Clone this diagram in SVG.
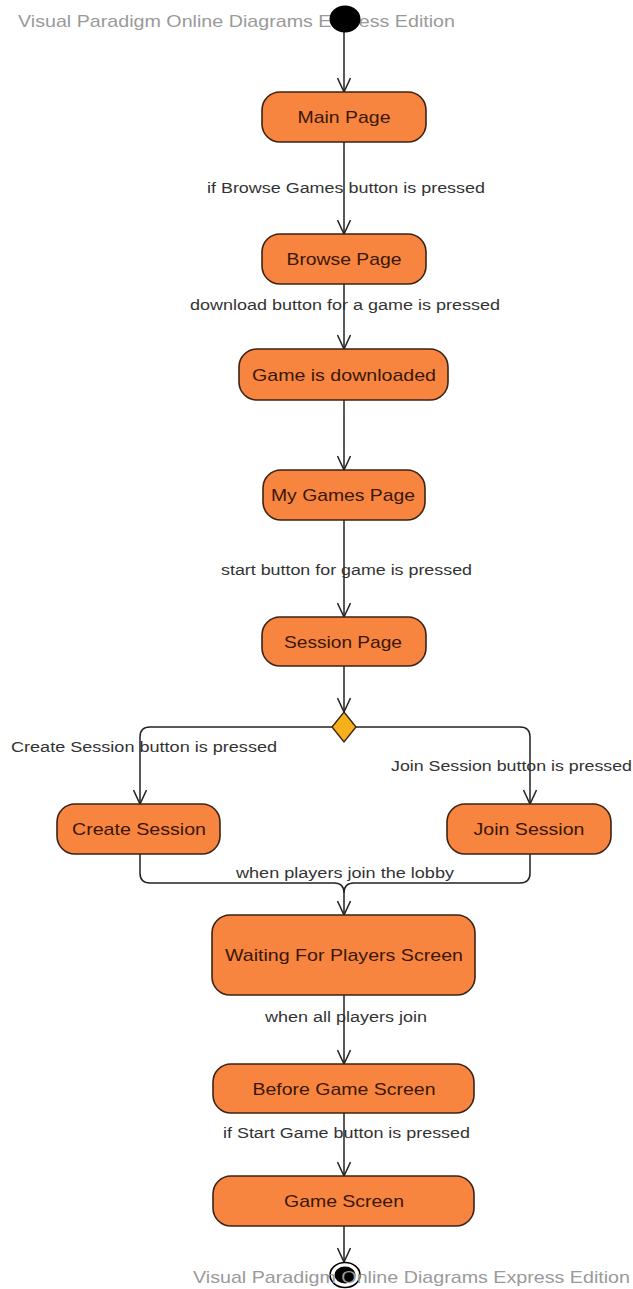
<svg xmlns="http://www.w3.org/2000/svg" width="633" height="1289" viewBox="0 0 633 1289">
<defs>
<style>
.node rect{fill:#f7853f;stroke:#3b2315;stroke-width:1.6}
.node text{font-family:"Liberation Sans",Arial,sans-serif;font-size:17px;fill:#3a1708;text-anchor:middle;dominant-baseline:central}
.edge{fill:none;stroke:#222;stroke-width:1.5}
.lbl{font-family:"Liberation Sans",Arial,sans-serif;font-size:14px;fill:#333}
.wm{font-family:"Liberation Sans",Arial,sans-serif;font-size:17px;fill:#9a9a9a}
</style>
<marker id="open" viewBox="0 0 16 14" refX="15" refY="7" markerWidth="16" markerHeight="14" markerUnits="userSpaceOnUse" orient="auto">
<path d="M1,0.5 L15,7 L1,13.5" fill="none" stroke="#222" stroke-width="1.5"/>
</marker>
</defs>
<rect width="633" height="1289" fill="#fff"/>

<text class="wm" x="18" y="27" textLength="437" lengthAdjust="spacingAndGlyphs">Visual Paradigm Online Diagrams Express Edition</text>

<g id="connectors">
<path class="edge" marker-end="url(#open)" d="M344,32 V92"/>
<path class="edge" marker-end="url(#open)" d="M344,142 V234"/>
<path class="edge" marker-end="url(#open)" d="M344,284 V349"/>
<path class="edge" marker-end="url(#open)" d="M344,400 V470"/>
<path class="edge" marker-end="url(#open)" d="M344,520 V617"/>
<path class="edge" marker-end="url(#open)" d="M344,666 V712"/>
<path class="edge" marker-end="url(#open)" d="M332,727 H150 Q140,727 140,737 V804"/>
<path class="edge" marker-end="url(#open)" d="M356,727 H520 Q530,727 530,737 V804"/>
<path class="edge" marker-end="url(#open)" d="M140,854 V873 Q140,883 150,883 H334 Q344,883 344,893 V915"/>
<path class="edge" d="M530,854 V873 Q530,883 520,883 H354 Q344,883 344,893"/>
<path class="edge" marker-end="url(#open)" d="M344,995 V1064"/>
<path class="edge" marker-end="url(#open)" d="M344,1113 V1176"/>
<path class="edge" marker-end="url(#open)" d="M344,1226 V1262"/>
<text class="lbl" x="207" y="193" textLength="278" lengthAdjust="spacingAndGlyphs">if Browse Games button is pressed</text>
<text class="lbl" x="190" y="310" textLength="310" lengthAdjust="spacingAndGlyphs">download button for a game is pressed</text>
<text class="lbl" x="221" y="575" textLength="251" lengthAdjust="spacingAndGlyphs">start button for game is pressed</text>
<text class="lbl" x="11" y="752" textLength="266" lengthAdjust="spacingAndGlyphs">Create Session button is pressed</text>
<text class="lbl" x="391" y="771" textLength="241" lengthAdjust="spacingAndGlyphs">Join Session button is pressed</text>
<text class="lbl" x="236" y="878" textLength="218" lengthAdjust="spacingAndGlyphs">when players join the lobby</text>
<text class="lbl" x="265" y="1022" textLength="162" lengthAdjust="spacingAndGlyphs">when all players join</text>
<text class="lbl" x="223" y="1138" textLength="247" lengthAdjust="spacingAndGlyphs">if Start Game button is pressed</text>
</g>

<g id="start"><ellipse cx="345" cy="19" rx="15.5" ry="13.5" fill="#000"/></g>
<g id="main-page" class="node"><rect x="262" y="92" width="164" height="50" rx="18"/><text x="344" y="117" textLength="93" lengthAdjust="spacingAndGlyphs">Main Page</text></g>
<g id="browse-page" class="node"><rect x="262" y="234" width="164" height="50" rx="18"/><text x="344" y="259" textLength="115" lengthAdjust="spacingAndGlyphs">Browse Page</text></g>
<g id="game-downloaded" class="node"><rect x="239" y="349" width="209" height="51" rx="18"/><text x="344" y="375" textLength="184" lengthAdjust="spacingAndGlyphs">Game is downloaded</text></g>
<g id="my-games-page" class="node"><rect x="263" y="470" width="162" height="50" rx="18"/><text x="343" y="495" textLength="144" lengthAdjust="spacingAndGlyphs">My Games Page</text></g>
<g id="session-page" class="node"><rect x="262" y="617" width="164" height="49" rx="18"/><text x="343" y="642" textLength="118" lengthAdjust="spacingAndGlyphs">Session Page</text></g>
<g id="decision"><path d="M344,712 L356,727 L344,742 L332,727 Z" fill="#f5b01c" stroke="#3b2315" stroke-width="1.4"/></g>
<g id="create-session" class="node"><rect x="57" y="804" width="163" height="50" rx="18"/><text x="139" y="829" textLength="134" lengthAdjust="spacingAndGlyphs">Create Session</text></g>
<g id="join-session" class="node"><rect x="447" y="804" width="164" height="50" rx="18"/><text x="529" y="829" textLength="111" lengthAdjust="spacingAndGlyphs">Join Session</text></g>
<g id="waiting-screen" class="node"><rect x="212" y="915" width="263" height="80" rx="18"/><text x="344" y="955" textLength="238" lengthAdjust="spacingAndGlyphs">Waiting For Players Screen</text></g>
<g id="before-game-screen" class="node"><rect x="213" y="1064" width="261" height="49" rx="18"/><text x="344" y="1089" textLength="183" lengthAdjust="spacingAndGlyphs">Before Game Screen</text></g>
<g id="game-screen" class="node"><rect x="213" y="1176" width="261" height="50" rx="18"/><text x="344" y="1201" textLength="120" lengthAdjust="spacingAndGlyphs">Game Screen</text></g>
<g id="end"><ellipse cx="345" cy="1275" rx="15" ry="12.5" fill="#fff" stroke="#000" stroke-width="1.6"/><ellipse cx="345" cy="1275" rx="10.5" ry="8.5" fill="#000"/></g>

<text class="wm" x="193" y="1283" textLength="437" lengthAdjust="spacingAndGlyphs">Visual Paradigm Online Diagrams Express Edition</text>
</svg>
